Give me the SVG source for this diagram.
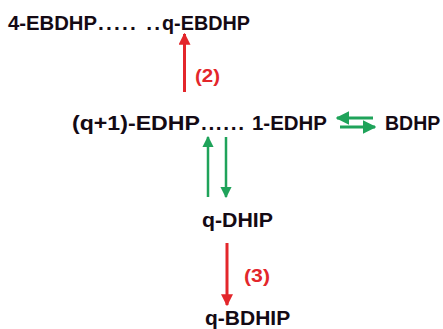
<svg xmlns="http://www.w3.org/2000/svg" width="443" height="329" viewBox="0 0 443 329">
<style>
.t{font-family:"Liberation Sans",Arial,sans-serif;font-weight:bold;font-size:21px;fill:#140a14}
.l{font-family:"Liberation Sans",Arial,sans-serif;font-weight:bold;font-size:19px;fill:#e3262b}
.r{stroke:#e3262b;stroke-width:3;fill:none}
.g{stroke:#1fa35a;stroke-width:2.5;fill:none}
.g2{stroke:#1fa35a;stroke-width:3;fill:none}
</style>
<defs>
<marker id="ar" viewBox="0 0 10 10" refX="9" refY="5" markerWidth="4" markerHeight="4" markerUnits="strokeWidth" orient="auto"><path d="M0,0L10,5L0,10z" fill="#e3262b"/></marker>
<marker id="ag" viewBox="0 0 10 10" refX="9" refY="5" markerWidth="4.5" markerHeight="4.5" markerUnits="strokeWidth" orient="auto"><path d="M0,0L10,5L0,10z" fill="#1fa35a"/></marker>
</defs>
<g id="n1"><text class="t" y="30"><tspan x="8" textLength="89" lengthAdjust="spacingAndGlyphs">4-EBDHP</tspan><tspan x="98" textLength="62" lengthAdjust="spacing">..... ..</tspan><tspan x="162" textLength="88" lengthAdjust="spacingAndGlyphs">q-EBDHP</tspan></text></g>
<g id="n2"><text class="t" y="130"><tspan x="72" textLength="128" lengthAdjust="spacingAndGlyphs">(q+1)-EDHP</tspan><tspan x="201" textLength="43" lengthAdjust="spacing">......</tspan><tspan x="252" textLength="75" lengthAdjust="spacingAndGlyphs">1-EDHP</tspan></text></g>
<g id="n3"><text class="t" x="385" y="130" style="font-size:19.5px">BDHP</text></g>
<g id="n4"><text class="t" x="202" y="227" textLength="71" lengthAdjust="spacingAndGlyphs">q-DHIP</text></g>
<g id="n5"><text class="t" x="205" y="325">q-BDHIP</text></g>
<g id="connectors">
<line class="r" x1="184.5" y1="92" x2="184.5" y2="34" marker-end="url(#ar)"/>
<text class="l" x="195" y="82" textLength="25" lengthAdjust="spacingAndGlyphs">(2)</text>
<line class="g" x1="208" y1="197" x2="208" y2="137" marker-end="url(#ag)"/>
<line class="g" x1="226" y1="137" x2="226" y2="197" marker-end="url(#ag)"/>
<line class="g2" x1="373" y1="118" x2="337" y2="118" marker-end="url(#ag)"/>
<line class="g2" x1="340" y1="127" x2="375" y2="127" marker-end="url(#ag)"/>
<line class="r" x1="227" y1="243" x2="227" y2="305" marker-end="url(#ar)"/>
<text class="l" x="244" y="282" textLength="26" lengthAdjust="spacingAndGlyphs">(3)</text>
</g>
</svg>
